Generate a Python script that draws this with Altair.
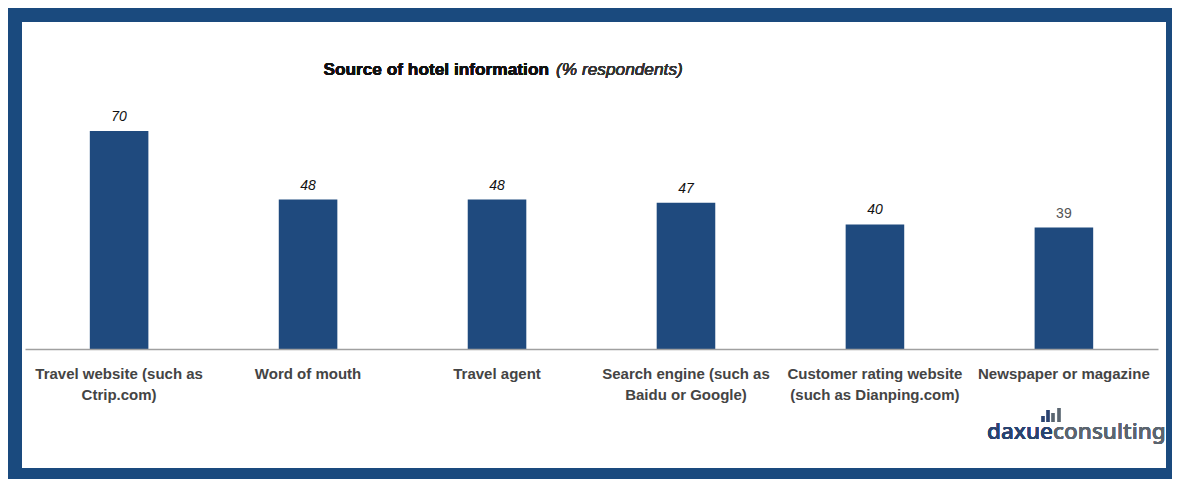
import altair as alt
import pandas as pd

categories = [
    "Travel website (such as\nCtrip.com)",
    "Word of mouth",
    "Travel agent",
    "Search engine (such as\nBaidu or Google)",
    "Customer rating website\n(such as Dianping.com)",
    "Newspaper or magazine",
]
values = [70, 48, 48, 47, 40, 39]

df = pd.DataFrame({"source": categories, "pct": values})

FRAME = "#1a4a7e"
BAR = "#1f4a7e"
W, H = 1133, 218

x_enc = alt.X(
    "source:N",
    sort=categories,
    scale=alt.Scale(paddingInner=0.69, paddingOuter=0.343),
    axis=alt.Axis(
        title=None,
        labelAngle=0,
        ticks=False,
        domainColor="#a0a0a0",
        domainWidth=1.5,
        labelColor="#444444",
        labelFont="Liberation Sans",
        labelFontSize=15,
        labelFontWeight="bold",
        labelPadding=17,
        labelLineHeight=21,
        labelLimit=300,
        labelExpr="split(datum.label, '\\n')",
        zindex=2,
    ),
)
y_enc = alt.Y("pct:Q", scale=alt.Scale(domain=[0, 70], nice=False), axis=None)

panel = alt.Chart(df).mark_rect(color="white").encode(
    x=alt.value(-3), x2=alt.value(1141), y=alt.value(-109), y2=alt.value(337)
)

bars = alt.Chart(df).mark_bar(color=BAR).encode(x=x_enc, y=y_enc)

lab_main = alt.Chart(df).transform_filter(
    "datum.source != 'Newspaper or magazine'"
).mark_text(
    font="Liberation Sans", fontSize=14, fontStyle="italic", color="#111111",
    baseline="bottom", dy=-7
).encode(x=alt.X("source:N", sort=categories), y="pct:Q", text="pct:Q")

lab_last = alt.Chart(df).transform_filter(
    "datum.source == 'Newspaper or magazine'"
).mark_text(
    font="Liberation Sans", fontSize=14, color="#555555",
    baseline="bottom", dy=-7
).encode(x=alt.X("source:N", sort=categories), y="pct:Q", text="pct:Q")

title_bold = alt.Chart(df).mark_text(
    text="Source of hotel information", font="Liberation Sans", fontSize=17.3,
    fontWeight="bold", color="#111111", align="right", baseline="middle"
).encode(x=alt.value(524), y=alt.value(-61))

title_it = alt.Chart(df).mark_text(
    text="(% respondents)", font="Liberation Sans", fontSize=17.3,
    fontStyle="italic", color="#333333", align="left", baseline="middle"
).encode(x=alt.value(531), y=alt.value(-61))

logo_a = alt.Chart(df).mark_text(
    text="daxue", font="Noto Sans", fontSize=22.5, fontWeight=500, color="#2a4370",
    align="right", baseline="middle"
).encode(x=alt.value(1028), y=alt.value(301))

logo_b = alt.Chart(df).mark_text(
    text="consulting", font="Noto Sans", fontSize=22.5, fontWeight=500, color="#5b6570",
    align="left", baseline="middle"
).encode(x=alt.value(1028), y=alt.value(301))

def icon_bar(xp, top, color):
    return alt.Chart(df).mark_rule(color=color, strokeWidth=2.5).encode(
        x=alt.value(xp), y=alt.value(top), y2=alt.value(291))

icons = [
    icon_bar(1018, 285, "#2a4370"),
    icon_bar(1023, 279, "#2a4370"),
    icon_bar(1028, 282, "#5b6570"),
    icon_bar(1034, 277, "#5b6570"),
]

chart = alt.layer(
    panel, bars, lab_main, lab_last, title_bold, title_it,
    logo_a, logo_b, *icons
).properties(
    width=W, height=H,
    autosize=alt.AutoSizeParams(type="none"),
    padding={"left": 17, "top": 123, "right": 14, "bottom": 130},
    background=FRAME,
).configure_view(stroke=None)

chart.save("out.html", embed_options={"renderer": "svg", "actions": False})
